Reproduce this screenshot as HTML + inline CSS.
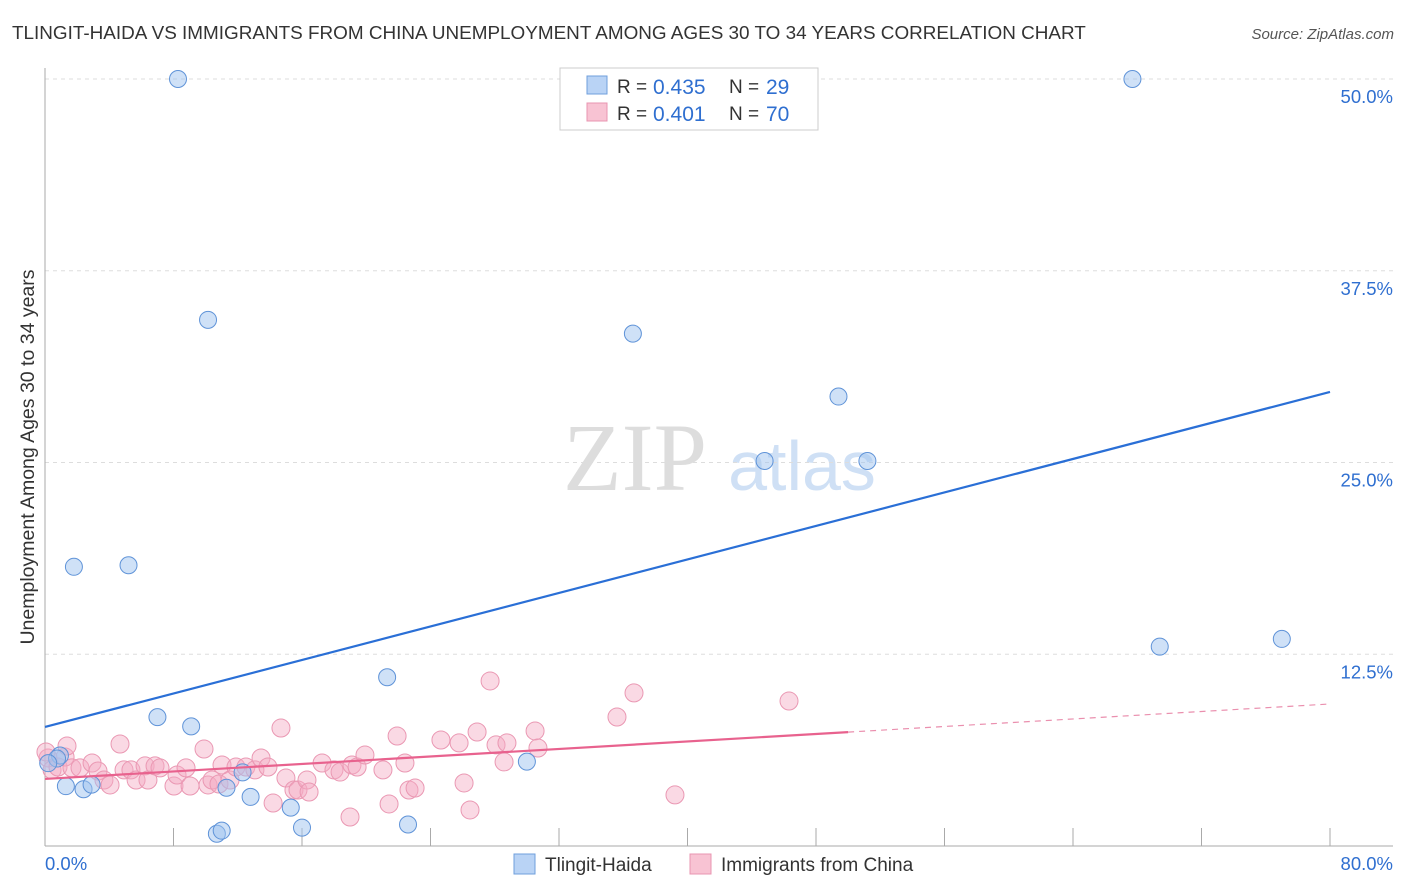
<!DOCTYPE html>
<html><head><meta charset="utf-8"><style>
body{margin:0;background:#fff;font-family:"Liberation Sans",sans-serif;}
#wrap{position:relative;width:1406px;height:892px;overflow:hidden;}
</style></head><body>
<div id="wrap">
<svg id="svg" width="1406" height="892" xmlns="http://www.w3.org/2000/svg">
<text x="12" y="39" font-size="18.9" fill="#333">TLINGIT-HAIDA VS IMMIGRANTS FROM CHINA UNEMPLOYMENT AMONG AGES 30 TO 34 YEARS CORRELATION CHART</text>
<text x="1394" y="39" font-size="15" fill="#555" font-style="italic" text-anchor="end">Source: ZipAtlas.com</text>
<text x="0" y="0" font-size="19.5" fill="#333" transform="translate(34,457) rotate(-90)" text-anchor="middle">Unemployment Among Ages 30 to 34 years</text>
<g>
<text x="635" y="490" font-size="96" font-family="Liberation Serif,serif" fill="#ddd" text-anchor="middle">ZIP</text>
<text x="802" y="490" font-size="70" fill="#cfe0f5" text-anchor="middle">atlas</text>
</g>
<g id="grid"></g><g id="axes"></g><g id="marks"></g>
<g>
<rect x="560" y="68" width="258" height="62" fill="#fff" stroke="#ccc"/>
<rect x="587" y="76" width="20" height="18" fill="#b9d3f5" stroke="#6f9fdc"/>
<rect x="587" y="103" width="20" height="18" fill="#f8c3d3" stroke="#e895b0"/>
<text x="617" y="93" font-size="19" fill="#333">R =</text>
<text x="653" y="94" font-size="21" fill="#2f6fd0">0.435</text>
<text x="729" y="93" font-size="19" fill="#333">N =</text>
<text x="766" y="94" font-size="21" fill="#2f6fd0">29</text>
<text x="617" y="120" font-size="19" fill="#333">R =</text>
<text x="653" y="121" font-size="21" fill="#2f6fd0">0.401</text>
<text x="729" y="120" font-size="19" fill="#333">N =</text>
<text x="766" y="121" font-size="21" fill="#2f6fd0">70</text>
</g>
<g>
<rect x="514" y="854" width="21" height="20" fill="#b9d3f5" stroke="#6f9fdc"/>
<text x="545" y="871" font-size="19" fill="#333">Tlingit-Haida</text>
<rect x="690" y="854" width="21" height="20" fill="#f8c3d3" stroke="#e895b0"/>
<text x="721" y="871" font-size="19" fill="#333">Immigrants from China</text>
</g>
</svg>
</div>
<script>
const yTicks=[12.5,25,37.5,50];
const yTickLabels=["12.5%","25.0%","37.5%","50.0%"];
const xTicks=[8,16,24,32,40,48,56,64,72,80];
const xEndLabels=["0.0%","80.0%"];
const blueX=[8.28,67.7,10.15,36.6,49.4,44.8,51.2,1.8,5.2,69.4,77.0,21.3,7.0,9.1,30.0,0.93,0.75,1.3,2.4,2.9,11.3,12.8,15.3,12.3,22.6,16.0,10.7,11.0,0.2];
const blueY=[50,50,34.3,33.4,29.3,25.1,25.1,18.2,18.3,13.0,13.5,11.0,8.4,7.8,5.5,5.9,5.7,3.9,3.7,4.0,3.8,3.2,2.5,4.8,1.4,1.2,0.8,1.0,5.4];
const pinkX=[0.19,0.44,0.81,1.25,1.68,2.18,2.93,3.30,3.67,4.05,4.67,4.92,5.35,5.67,6.23,6.41,6.85,7.16,8.03,8.22,8.78,9.03,9.90,10.15,10.40,10.83,11.02,11.52,11.89,12.51,13.07,13.45,13.88,14.20,14.69,15.00,15.50,15.75,16.31,16.44,17.25,17.99,18.37,19.11,19.43,19.92,21.04,21.42,21.92,22.41,22.66,23.04,24.65,25.78,26.09,26.46,26.90,27.71,28.08,28.58,28.76,30.51,30.69,35.61,36.67,39.22,46.32,18.99,1.37,0.06];
const pinkY=[5.74,4.96,5.15,5.80,5.09,5.09,5.41,4.89,4.30,3.98,6.65,4.96,4.96,4.30,5.22,4.30,5.22,5.09,3.91,4.63,5.09,3.91,6.32,3.98,4.30,4.04,5.28,4.30,5.15,5.15,4.96,5.74,5.15,2.80,7.69,4.43,3.65,3.65,4.30,3.52,5.41,4.96,4.82,5.28,5.15,5.93,4.96,2.74,7.17,5.41,3.65,3.78,6.91,6.72,4.11,2.35,7.43,10.76,6.59,5.48,6.72,7.50,6.39,8.41,9.98,3.33,9.45,1.89,6.52,6.13];
const blueTrend=[7.76,0.273];
const pinkTrend=[4.37,0.0611];
const pinkSolidEnd=50;

const X0=45,X1=1330,Y0=846,Y50=79;
const sx=v=>X0+(v/80)*(X1-X0);
const sy=v=>Y0-(v/50)*(Y0-Y50);
const NS="http://www.w3.org/2000/svg";
function mk(tag,attrs,parent){const e=document.createElementNS(NS,tag);for(const k in attrs)e.setAttribute(k,attrs[k]);parent.appendChild(e);return e;}
const grid=document.getElementById('grid'),axes=document.getElementById('axes'),marks=document.getElementById('marks');
yTicks.forEach((t,i)=>{
  const l=mk('line',{x1:X0,x2:1393,y1:sy(t),y2:sy(t),stroke:'#ddd','stroke-dasharray':'4,4'},grid);
  
  
  const tx=mk('text',{x:1393,y:sy(t)+24,'font-size':18.5,fill:'#2f6fd0','text-anchor':'end'},axes);
  tx.textContent=yTickLabels[i];
  
  
});
mk('line',{x1:X0,x2:X0,y1:68,y2:Y0,stroke:'#aaa'},axes);
mk('line',{x1:X0,x2:1393,y1:Y0,y2:Y0,stroke:'#aaa'},axes);
xTicks.forEach(t=>{
  const l=mk('line',{x1:sx(t),x2:sx(t),y1:828,y2:Y0,stroke:'#aaa'},axes);
  
  
});
const xl0=mk('text',{x:45,y:870,'font-size':18.5,fill:'#2f6fd0'},axes);xl0.textContent=xEndLabels[0];


const xl1=mk('text',{x:1393,y:870,'font-size':18.5,fill:'#2f6fd0','text-anchor':'end'},axes);xl1.textContent=xEndLabels[1];


pinkX.forEach((x,i)=>{
  const c=mk('circle',{cx:sx(x),cy:sy(pinkY[i]),r:9,fill:'rgba(244,170,195,0.45)',stroke:'#ea98b3','stroke-width':1},marks);
  
  
});
blueX.forEach((x,i)=>{
  const c=mk('circle',{cx:sx(x),cy:sy(blueY[i]),r:8.5,fill:'rgba(160,195,240,0.5)',stroke:'#5f93d8','stroke-width':1},marks);
  
  
});
const bl=mk('line',{x1:sx(0),y1:sy(blueTrend[0]),x2:sx(80),y2:sy(blueTrend[0]+blueTrend[1]*80),stroke:'#2a6fd6','stroke-width':2.2},marks);


const pl=mk('line',{x1:sx(0),y1:sy(pinkTrend[0]),x2:sx(pinkSolidEnd),y2:sy(pinkTrend[0]+pinkTrend[1]*pinkSolidEnd),stroke:'#e8628e','stroke-width':2.2},marks);


const pd=mk('line',{x1:sx(pinkSolidEnd),y1:sy(pinkTrend[0]+pinkTrend[1]*pinkSolidEnd),x2:sx(80),y2:sy(pinkTrend[0]+pinkTrend[1]*80),stroke:'#ea8fae','stroke-width':1.2,'stroke-dasharray':'6,5'},marks);


</script>
</body></html>
